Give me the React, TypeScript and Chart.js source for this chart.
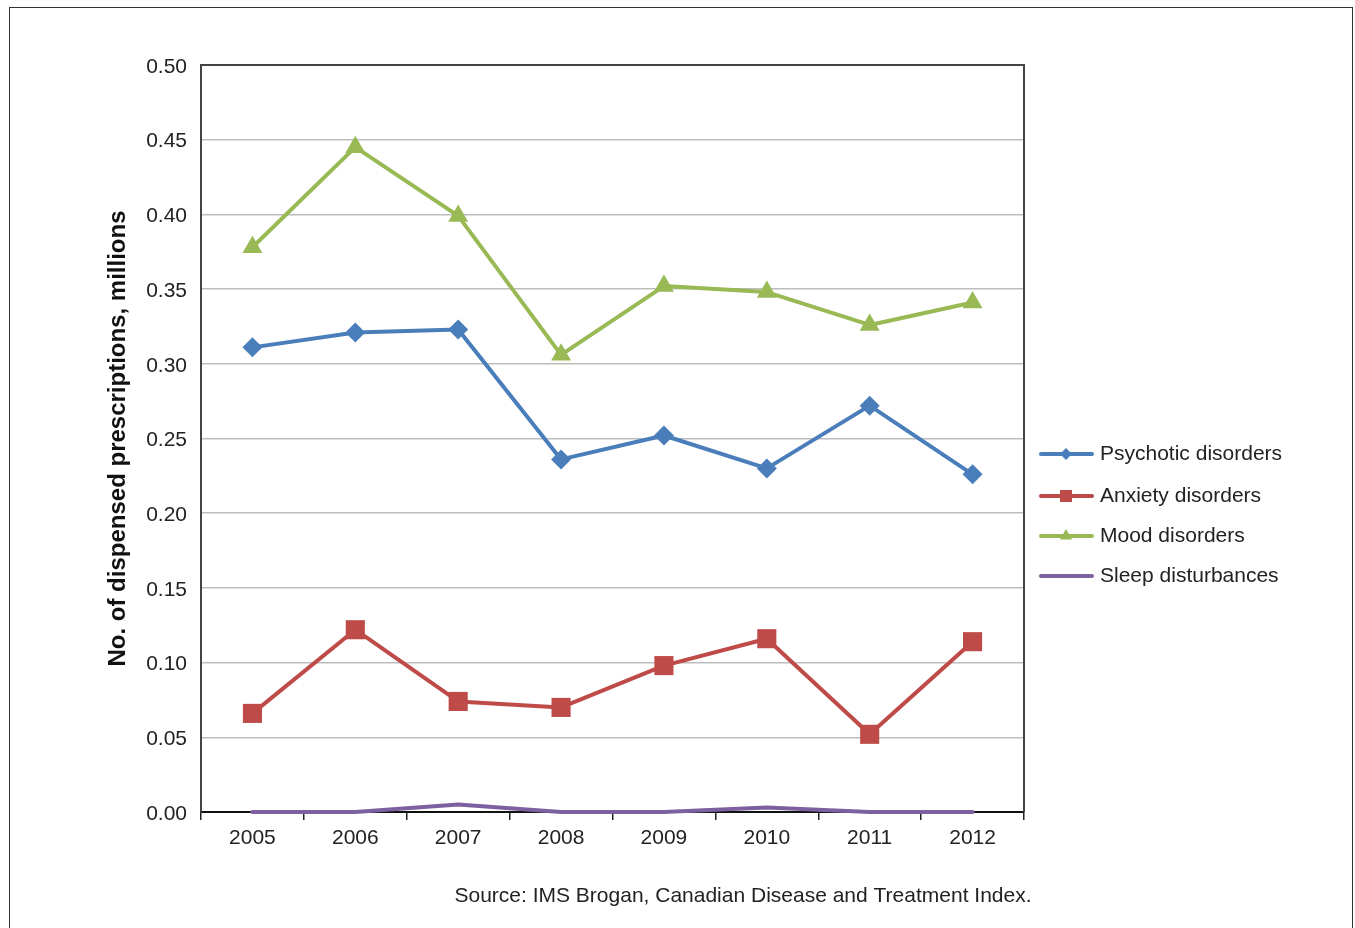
import React, { useEffect, useRef } from "react";
import { Chart, registerables } from "chart.js";

Chart.register(...registerables);

const years = ["2005", "2006", "2007", "2008", "2009", "2010", "2011", "2012"];
const psychotic = [0.311, 0.321, 0.323, 0.236, 0.252, 0.23, 0.272, 0.226];
const anxiety = [0.066, 0.122, 0.074, 0.07, 0.098, 0.116, 0.052, 0.114];
const mood = [0.378, 0.445, 0.399, 0.306, 0.352, 0.348, 0.326, 0.341];
const sleep = [0, 0, 0.005, 0, 0, 0.003, 0, 0];
const seriesNames = ["Psychotic disorders", "Anxiety disorders", "Mood disorders", "Sleep disturbances"];
const colors = ["#4A7EBB", "#BE4B48", "#98B954", "#7D60A0"];
const markers = ["rectRot", "rect", "triangle", false];
const yTitle = "No. of dispensed prescriptions, millions";
const sourceText = "Source: IMS Brogan, Canadian Disease and Treatment Index.";

const FONT = "'Liberation Sans', Arial, sans-serif";

function drawMarker(ctx: CanvasRenderingContext2D, style: any, x: number, y: number, s: number) {
  ctx.beginPath();
  if (style === "rectRot") {
    ctx.moveTo(x, y - s);
    ctx.lineTo(x + s, y);
    ctx.lineTo(x, y + s);
    ctx.lineTo(x - s, y);
  } else if (style === "rect") {
    ctx.rect(x - s, y - s, 2 * s, 2 * s);
  } else if (style === "triangle") {
    ctx.moveTo(x, y - s);
    ctx.lineTo(x + s * 0.866, y + s * 0.5);
    ctx.lineTo(x - s * 0.866, y + s * 0.5);
  }
  ctx.closePath();
  ctx.fill();
}

const extras = {
  id: "extras",
  beforeDatasetsDraw(chart: any) {
    const { ctx, chartArea } = chart;
    ctx.save();
    ctx.strokeStyle = "#444";
    ctx.lineWidth = 2;
    ctx.beginPath();
    ctx.moveTo(chartArea.left, chartArea.top);
    ctx.lineTo(chartArea.right, chartArea.top);
    ctx.lineTo(chartArea.right, chartArea.bottom);
    ctx.stroke();
    ctx.restore();
  },
  afterDraw(chart: any) {
    const { ctx } = chart;
    ctx.save();
    const rowsY = [454, 496, 536, 576];
    const markerSizes = [6, 6, 7, 0];
    chart.data.datasets.forEach((ds: any, i: number) => {
      const y = rowsY[i];
      ctx.strokeStyle = ds.borderColor;
      ctx.lineWidth = 4;
      ctx.lineCap = "round";
      ctx.beginPath();
      ctx.moveTo(1041, y);
      ctx.lineTo(1092, y);
      ctx.stroke();
      if (markers[i]) {
        ctx.fillStyle = ds.borderColor;
        drawMarker(ctx, markers[i], 1066, y, markerSizes[i]);
      }
      ctx.fillStyle = "#222";
      ctx.font = `21px ${FONT}`;
      ctx.textAlign = "left";
      ctx.textBaseline = "middle";
      ctx.fillText(ds.label, 1100, y);
    });
    ctx.fillStyle = "#222";
    ctx.font = `21px ${FONT}`;
    ctx.textAlign = "center";
    ctx.textBaseline = "middle";
    ctx.fillText(sourceText, 743, 896);
    ctx.restore();
  },
};

export default function App() {
  const ref = useRef<HTMLCanvasElement>(null);
  useEffect(() => {
    const canvas = ref.current;
    if (!canvas) return;
    const seriesData = [psychotic, anxiety, mood, sleep];
    const radii = [10, 13.5, 11.5, 0];
    const chart = new Chart(canvas, {
      type: "line",
      data: {
        labels: years,
        datasets: seriesData.map((d, i) => ({
          label: seriesNames[i],
          data: d,
          borderColor: colors[i],
          backgroundColor: colors[i],
          borderWidth: 4,
          pointStyle: markers[i] as any,
          pointRadius: radii[i],
          pointBorderWidth: 0,
          pointBackgroundColor: colors[i],
          pointHoverRadius: radii[i],
          tension: 0,
          clip: false as any,
          borderJoinStyle: "round",
          borderCapStyle: "round",
        })),
      },
      options: {
        responsive: false,
        animation: false,
        devicePixelRatio: 1,
        layout: { padding: { left: 0, top: 65, right: 331, bottom: 0 } },
        plugins: {
          legend: { display: false },
          tooltip: { enabled: false },
        },
        scales: {
          x: {
            type: "category",
            offset: true,
            afterFit: (s: any) => {
              s.height = 116;
            },
            grid: {
              display: true,
              drawOnChartArea: false,
              drawTicks: true,
              tickLength: 8,
              offset: true,
              color: "#222",
              lineWidth: 1.5,
            },
            border: { display: true, color: "#111", width: 2 },
            ticks: {
              color: "#222",
              font: { family: FONT, size: 21 },
              padding: 6,
              maxRotation: 0,
            },
          },
          y: {
            min: 0,
            max: 0.5,
            afterFit: (s: any) => {
              s.width = 201;
            },
            grid: {
              color: "#bdbdbd",
              lineWidth: 1.5,
              drawTicks: false,
            },
            border: { display: true, color: "#444", width: 2 },
            ticks: {
              stepSize: 0.05,
              color: "#222",
              padding: 14,
              labelOffset: 2,
              font: { family: FONT, size: 21 },
              callback: (v: any) => Number(v).toFixed(2),
            },
            title: {
              display: true,
              text: yTitle,
              color: "#111",
              font: { family: FONT, size: 24, weight: "bold" },
              padding: { top: 104, bottom: 0 },
            },
          },
        },
      },
      plugins: [extras],
    });
    return () => chart.destroy();
  }, []);

  return (
    <div
      style={{
        position: "fixed",
        left: 0,
        top: 0,
        width: 1355,
        height: 928,
        overflow: "hidden",
        background: "#fff",
      }}
    >
      <div
        style={{
          position: "absolute",
          left: 9,
          top: 7,
          width: 1342,
          height: 1000,
          border: "1.5px solid #333",
        }}
      />
      <canvas
        ref={ref}
        width={1355}
        height={928}
        style={{ position: "absolute", left: 0, top: 0, width: 1355, height: 928 }}
      />
    </div>
  );
}
